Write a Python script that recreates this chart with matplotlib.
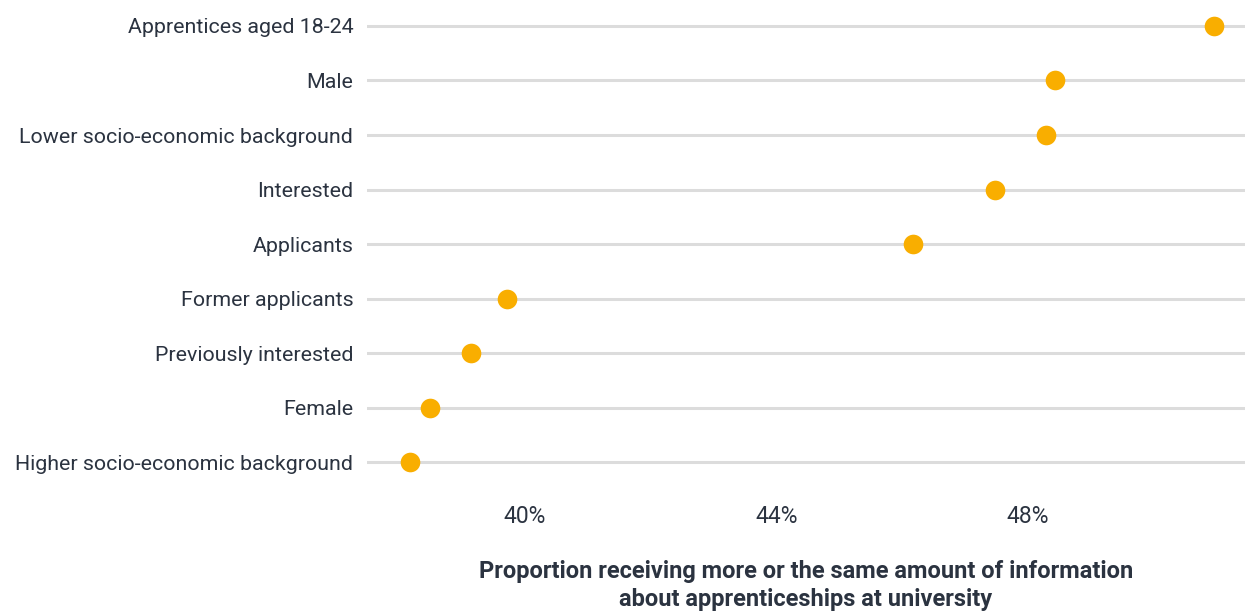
import matplotlib
matplotlib.use("Agg")
import matplotlib.pyplot as plt

# Datos (de abajo hacia arriba)
groups = [
    "Higher socio-economic background",
    "Female",
    "Previously interested",
    "Former applicants",
    "Applicants",
    "Interested",
    "Lower socio-economic background",
    "Male",
    "Apprentices aged 18-24",
]
values = [38.17, 38.49, 39.15, 39.71, 46.17, 47.47, 48.28, 48.43, 50.95]
tick_vals = [40, 44, 48]
tick_labels = ["40%", "44%", "48%"]

plt.rcParams["font.family"] = ["Roboto", "DejaVu Sans"]
text_color = "#2b3340"
dot_color = "#f9ae00"
grid_color = "#dcdcdc"

fig = plt.figure(figsize=(12.45, 6.12), dpi=100)
ax = fig.add_axes([0.2948, 0.1993, 0.7052, 0.8007])

y = list(range(len(groups)))
for yi in y:
    ax.axhline(yi, color=grid_color, lw=2.2, zorder=1)
ax.scatter(values, y, s=200, color=dot_color, zorder=3, linewidths=0)

ax.set_xlim(37.49, 51.45)
ax.set_ylim(-0.514, 8.477)
ax.set_yticks(y)
ax.set_yticklabels(groups, fontsize=15.4, color=text_color)
ax.set_xticks(tick_vals)
ax.set_xticklabels(tick_labels, fontsize=16.5, color=text_color)
ax.tick_params(axis="both", length=0)
ax.tick_params(axis="y", pad=10)
ax.tick_params(axis="x", pad=11)
for s in ax.spines.values():
    s.set_visible(False)

ax.set_xlabel("Proportion receiving more or the same amount of information\nabout apprenticeships at university",
              fontsize=17, fontweight="bold", color=text_color, labelpad=23, linespacing=1.25)

fig.savefig("out.png", dpi=100)
